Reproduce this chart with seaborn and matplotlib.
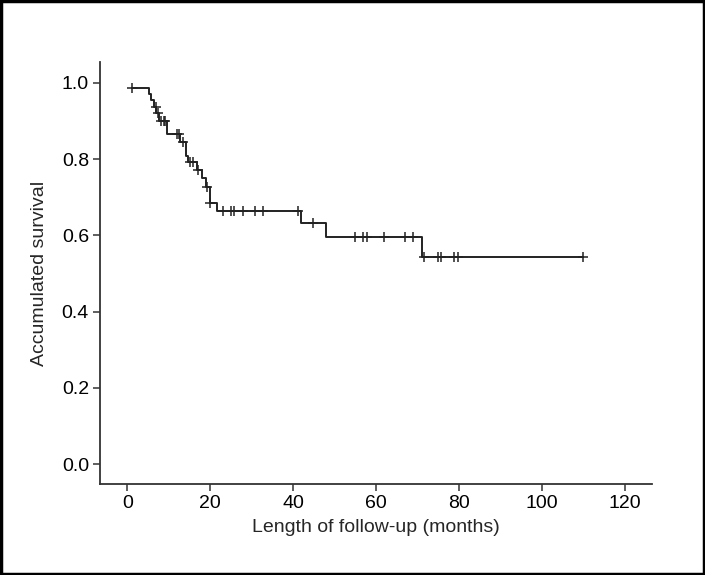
import numpy as np
import pandas as pd
import matplotlib
matplotlib.use("Agg")
import matplotlib.pyplot as plt
import seaborn as sns
from matplotlib.patches import Rectangle

# Kaplan-Meier step curve (time in months, survival after each step)
step_time = [1.0, 5.2, 5.8, 6.3, 7.0, 7.5, 9.5, 12.6, 14.1, 14.7, 16.7, 17.9,
             18.9, 19.9, 21.5, 41.9, 47.9, 71.0]
step_surv = [0.986, 0.970, 0.955, 0.936, 0.921, 0.900, 0.866, 0.845, 0.808,
             0.793, 0.771, 0.749, 0.727, 0.686, 0.663, 0.633, 0.596, 0.542]
end_time = 110.0

# Censored observations (months)
censor_time = [1.0, 6.9, 7.3, 8.1, 8.8, 9.1, 12.0, 12.5, 13.3, 15.1, 15.9, 16.9,
               19.1, 20.0, 23.0, 25.0, 25.8, 27.9, 30.7, 32.7, 41.1, 44.8,
               54.9, 56.9, 57.7, 62.0, 67.0, 68.8, 71.6, 74.9, 75.7, 78.9,
               79.7, 109.8]

x_ticks = [0, 20, 40, 60, 80, 100, 120]
y_ticks = [0.0, 0.2, 0.4, 0.6, 0.8, 1.0]

sns.set_style("ticks")
plt.rcParams['font.family'] = ['Liberation Sans', 'DejaVu Sans']

curve = pd.DataFrame({
    "time": step_time + [end_time],
    "surv": step_surv + [step_surv[-1]],
})
idx = np.searchsorted(np.array(step_time), np.array(censor_time), side="right") - 1
cens = pd.DataFrame({"time": censor_time, "surv": np.array(step_surv)[idx]})

fig = plt.figure(figsize=(7.05, 5.75), dpi=100)
ax = fig.add_axes([0.142, 0.158, 0.783, 0.734])

sns.lineplot(data=curve, x="time", y="surv", ax=ax, drawstyle="steps-post",
             color="#222222", linewidth=1.4, estimator=None, sort=False)
sns.scatterplot(data=cens, x="time", y="surv", ax=ax, marker="+", s=55,
                color="#222222", linewidth=1.1, zorder=3)

ax.set_xlim(-6.6, 126.6)
ax.set_ylim(-0.052, 1.054)
ax.set_xticks(x_ticks)
ax.set_xticklabels([str(v) for v in x_ticks])
ax.set_yticks(y_ticks)
ax.set_yticklabels([f"{v:.1f}" for v in y_ticks])
ax.tick_params(axis="both", direction="out", length=5, width=1.1,
               color="#333333", labelsize=14, labelcolor="black", pad=3)
for s in ["top", "right"]:
    ax.spines[s].set_visible(False)
for s in ["left", "bottom"]:
    ax.spines[s].set_linewidth(1.3)
    ax.spines[s].set_color("#333333")

ax.set_xlabel("Length of follow-up (months)", fontsize=14, labelpad=5)
ax.set_ylabel("Accumulated survival", fontsize=14, labelpad=10)

fig.patches.append(Rectangle((0.0015, 0.002), 0.997, 0.996, transform=fig.transFigure,
                             fill=False, edgecolor="black", linewidth=2.5))

fig.savefig("out.png", dpi=100, facecolor="white")
